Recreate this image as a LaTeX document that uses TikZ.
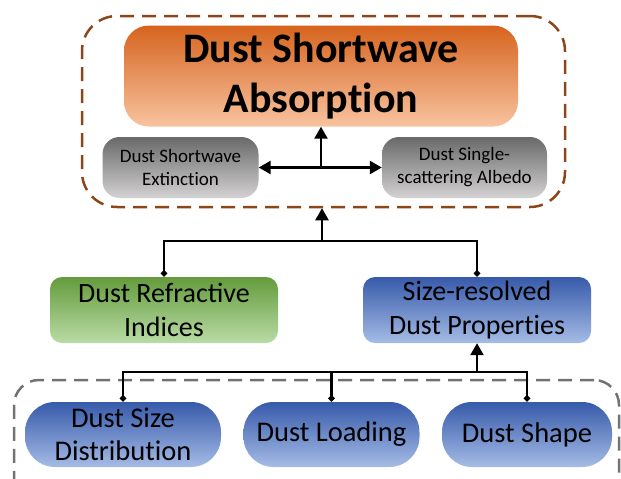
\documentclass[tikz,border=0pt]{standalone}
\usepackage{fontspec}
\setmainfont{Carlito}
\usetikzlibrary{arrows.meta}
\definecolor{brownline}{RGB}{140,70,25}
\definecolor{grayline}{RGB}{118,113,113}
\definecolor{orTop}{RGB}{214,100,30}
\definecolor{orMid}{RGB}{242,168,120}
\definecolor{orBot}{RGB}{248,195,160}
\definecolor{grTop}{RGB}{105,105,105}
\definecolor{grMid}{RGB}{178,178,178}
\definecolor{grBot}{RGB}{212,210,210}
\definecolor{gnTop}{RGB}{100,155,60}
\definecolor{gnMid}{RGB}{163,207,135}
\definecolor{gnBot}{RGB}{185,220,165}
\definecolor{blTop}{RGB}{55,90,170}
\definecolor{blMid}{RGB}{128,158,217}
\definecolor{blBot}{RGB}{165,188,230}
\begin{document}
\begin{tikzpicture}[x=1pt,y=-1pt,
  conn/.style={line width=2.4pt,black},
  upar/.style={conn,-{Triangle[length=12pt,width=13pt]}},
  dbar/.style={conn,{Triangle[length=12pt,width=13pt]}-{Triangle[length=12pt,width=13pt]}},
  dmd/.style={conn,-{Diamond[length=7pt,width=7pt]}},
  obox/.style={rounded corners=25pt,top color=orTop,middle color=orMid,bottom color=orBot,align=center,inner sep=0pt},
  gbox/.style={rounded corners=17pt,top color=grTop,middle color=grMid,bottom color=grBot,align=center,inner sep=0pt,font=\fontsize{19}{23}\selectfont},
  gnbox/.style={rounded corners=12pt,top color=gnTop,middle color=gnMid,bottom color=gnBot,align=center,inner sep=0pt,font=\fontsize{28}{34}\selectfont},
  blbox/.style={rounded corners=12pt,top color=blTop,middle color=blMid,bottom color=blBot,align=center,inner sep=0pt,font=\fontsize{28}{34}\selectfont},
  bbox/.style={rounded corners=30pt,top color=blTop,middle color=blMid,bottom color=blBot,align=center,inner sep=0pt,font=\fontsize{28.5}{33}\selectfont},
  grp/.style={dashed,line width=2.5pt,dash pattern=on 14pt off 8pt,inner sep=0pt}
]
\useasboundingbox (0,0) rectangle (621,479);
\clip (0,0) rectangle (621,479);

% groups
\node[grp,draw=brownline,rounded corners=35pt,minimum width=483pt,minimum height=191pt] (topgroup) at (323.5,111.5) {};
\node[grp,draw=grayline,rounded corners=25pt,minimum width=605pt,minimum height=130pt] (botgroup) at (316.5,445) {};

% top nodes
\node[obox,minimum width=394pt,minimum height=101pt,font=\bfseries\fontsize{42}{50}\selectfont] (absorb) at (321,76) {Dust Shortwave\\Absorpt\kern0pt ion};
\node[gbox,minimum width=156pt,minimum height=61pt] (ext) at (180.5,167.5) {Dust Shortwave\\Extinct\kern0pt ion};
\node[gbox,minimum width=165pt,minimum height=61pt] (ssa) at (464.5,167.5) {Dust Single-\\scattering Albedo};
\coordinate (mid) at (321,167.5);

% middle nodes
\node[gnbox,minimum width=228pt,minimum height=66pt] (refr) at (164,310) {Dust Refractive\\Indices};
\node[blbox,minimum width=228pt,minimum height=66pt] (sizeres) at (477,310) {Size-resolved\\Dust Propert\kern0pt ies};
\coordinate (j1) at (322,241);

% bottom nodes
\node[bbox,minimum width=196pt,minimum height=65pt] (psd) at (123,434.5) {Dust Size\\Distribut\kern0pt ion};
\node[bbox,minimum width=176pt,minimum height=65pt] (load) at (331.5,434.5) {Dust Loading};
\node[bbox,minimum width=170pt,minimum height=65pt] (shape) at (527,434.5) {Dust Shape};
\coordinate (j2) at (477,372);

% connectors
\draw[dbar] (ext.east) -- (ssa.west);
\draw[upar] (mid) -- (absorb.south);
\draw[upar] (j1) -- (j1 |- topgroup.south);
\draw[dmd] (j1) -| (refr.north);
\draw[dmd] (j1) -| (sizeres.north);
\draw[upar] (j2) -- (sizeres.south);
\draw[dmd] (j2) -| (psd.north);
\draw[dmd] (j2) -| (load.north);
\draw[dmd] (j2) -| (shape.north);
\end{tikzpicture}
\end{document}
